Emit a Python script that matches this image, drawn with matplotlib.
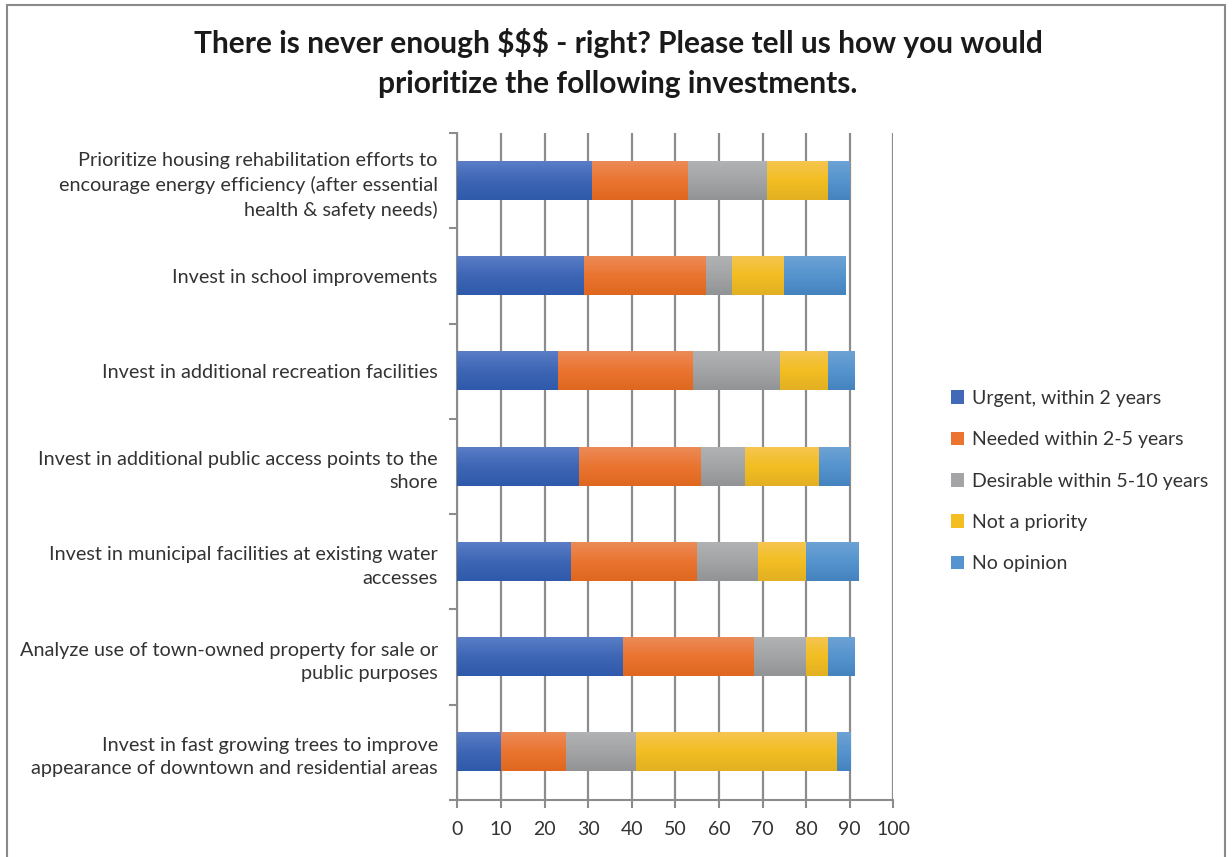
import numpy as np
import matplotlib
matplotlib.use("Agg")
import matplotlib.pyplot as plt
from matplotlib.colors import to_rgb
from matplotlib.patches import Rectangle

# === DONNEES ===
categories = [
    "Prioritize housing rehabilitation efforts to\nencourage energy efficiency (after essential\nhealth & safety needs)",
    "Invest in school improvements",
    "Invest in additional recreation facilities",
    "Invest in additional public access points to the\nshore",
    "Invest in municipal facilities at existing water\naccesses",
    "Analyze use of town-owned property for sale or\npublic purposes",
    "Invest in fast growing trees to improve\nappearance of downtown and residential areas",
]
series_names = [
    "Urgent, within 2 years",
    "Needed within 2-5 years",
    "Desirable within 5-10 years",
    "Not a priority",
    "No opinion",
]
urgent = [31, 29, 23, 28, 26, 38, 10]
needed = [22, 28, 31, 28, 29, 30, 15]
desirable = [18, 6, 20, 10, 14, 12, 16]
not_priority = [14, 12, 11, 17, 11, 5, 46]
no_opinion = [5, 14, 6, 7, 12, 6, 3]
x_ticks = [0, 10, 20, 30, 40, 50, 60, 70, 80, 90, 100]

# couleurs : (haut, milieu, bas) pour le degrade style Excel
colors = ["#4169B8", "#EA7430", "#A3A4A6", "#F2BE22", "#5594CE"]
grad_stops = [
    ("#5A7DC6", "#3E66B5", "#2F59AA"),
    ("#EC8B57", "#EA7430", "#DF671F"),
    ("#B1B2B4", "#A3A4A6", "#929395"),
    ("#F5C54F", "#F2BE22", "#E2B022"),
    ("#6DA2D4", "#5594CE", "#4483BE"),
]
title = "There is never enough $$$ - right? Please tell us how you would\nprioritize the following investments."

plt.rcParams['font.family'] = ['Lato', 'DejaVu Sans']


def gradient(stops, n=64):
    top, mid, bot = [np.array(to_rgb(c)) for c in stops]
    t = np.linspace(0, 1, n)[:, None]
    first = top + (mid - top) * np.clip(t * 2, 0, 1)
    second = mid + (bot - mid) * np.clip(t * 2 - 1, 0, 1)
    arr = np.where(t < 0.5, first, second)
    return arr[:, None, :]


fig = plt.figure(figsize=(12.32, 8.57), dpi=100)
fig.patches.append(Rectangle((7 / 1232, -0.1), (1225 - 7) / 1232, 1.1 - 5 / 857,
                             transform=fig.transFigure, fill=False,
                             edgecolor="#8a8a8a", linewidth=1.5))

ax = fig.add_axes([457.3 / 1232, 1 - 800 / 857, 436 / 1232, 667 / 857])

bar_h = 0.4
y = np.arange(len(categories))
left = np.zeros(len(categories))
for name, vals, c, st in zip(series_names,
                             [urgent, needed, desirable, not_priority, no_opinion],
                             colors, grad_stops):
    ax.barh(y, vals, left=left, height=bar_h, color=c, label=name, zorder=3)
    g = gradient(st)
    for yi, l, v in zip(y, left, vals):
        ax.imshow(g, extent=[l, l + v, yi + bar_h / 2, yi - bar_h / 2],
                  aspect="auto", interpolation="bilinear", zorder=4)
    left += np.array(vals)

ax.set_xlim(0, 100)
ax.set_ylim(len(categories) - 0.5, -0.5)
ax.set_aspect("auto")
ax.set_xticks(x_ticks)
ax.set_xticklabels([str(t) for t in x_ticks], fontsize=14, color="#333333")
ax.tick_params(axis="x", length=6, width=1.5, color="#8c8c8c", pad=9)

ax.set_yticks(np.arange(-0.5, len(categories), 1.0))
ax.set_yticklabels([])
ax.set_yticks(y, minor=True)
ax.set_yticklabels(categories, minor=True, fontsize=14.3, color="#333333",
                   linespacing=1.45)
ax.tick_params(axis="y", which="major", length=6, width=1.5, color="#8c8c8c")
ax.tick_params(axis="y", which="minor", length=0, pad=14)

ax.grid(axis="x", color="#8c8c8c", linewidth=1.6, zorder=0)
for s in ["top", "right"]:
    ax.spines[s].set_visible(False)
for s in ["left", "bottom"]:
    ax.spines[s].set_color("#8c8c8c")
    ax.spines[s].set_linewidth(1.5)

fig.text(618 / 1232, 1 - 63 / 857, title, ha="center", va="center",
         fontsize=21.5, fontweight="bold", color="#1a1a1a", linespacing=1.55)

leg = ax.legend(loc="center left", bbox_to_anchor=(933 / 1232, 1 - 481 / 857),
                bbox_transform=fig.transFigure, frameon=False, fontsize=14,
                handlelength=0.7, handleheight=0.7, handletextpad=0.4,
                labelspacing=1.25, labelcolor="#333333")

fig.savefig("out.png", dpi=100)
